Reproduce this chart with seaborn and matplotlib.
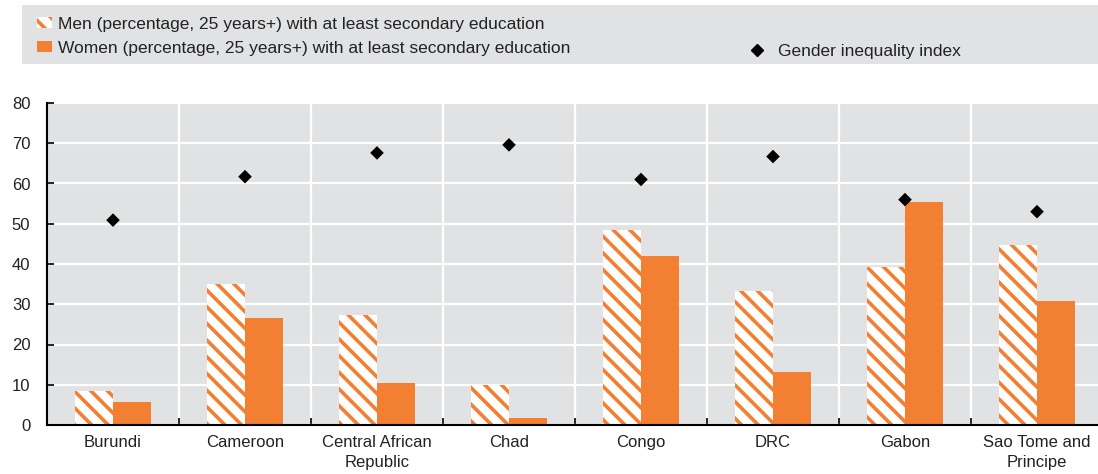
import numpy as np
import pandas as pd
import matplotlib
matplotlib.use('Agg')
import matplotlib.pyplot as plt
from matplotlib.patches import Patch, Rectangle
from matplotlib.lines import Line2D
from matplotlib import font_manager
import seaborn as sns

countries = ['Burundi', 'Cameroon', 'Central African\nRepublic', 'Chad', 'Congo',
             'DRC', 'Gabon', 'Sao Tome and\nPrincipe']
men = [8.5, 35.0, 27.3, 9.9, 48.4, 33.3, 39.2, 44.8]
women = [5.7, 26.7, 10.5, 1.7, 42.0, 13.2, 55.5, 30.8]
gii = [50.9, 61.7, 67.6, 69.6, 61.0, 66.7, 56.0, 53.0]

men_label = 'Men (percentage, 25 years+) with at least secondary education'
women_label = 'Women (percentage, 25 years+) with at least secondary education'
gii_label = 'Gender inequality index'

orange = '#f37f32'
grey = '#e1e2e4'

sns.set_style('white')
names = {f.name for f in font_manager.fontManager.ttflist}
fams = [f for f in ['Liberation Sans Narrow', 'Liberation Sans', 'DejaVu Sans'] if f in names]
plt.rcParams['font.family'] = fams
plt.rcParams['hatch.linewidth'] = 2.6

df = pd.DataFrame({'country': countries * 2,
                   'value': men + women,
                   'series': ['men'] * 8 + ['women'] * 8})

W, H = 1098, 474
fig = plt.figure(figsize=(W / 100, H / 100), dpi=100)
fig.patches.append(Rectangle((22 / W, 1 - 64 / H), 1076 / W, 59 / H,
                             transform=fig.transFigure, facecolor=grey,
                             edgecolor='none', zorder=0))

ax = fig.add_axes([47 / W, 49 / H, (1103 - 47) / W, 322 / H])
ax.set_facecolor(grey)

sns.barplot(data=df, x='country', y='value', hue='series',
            palette=[orange, orange], width=0.57, gap=0, saturation=1,
            legend=False, ax=ax, zorder=3)

n = len(countries)
for p in ax.patches[:n]:
    p.set_facecolor('white')
    p.set_edgecolor(orange)
    p.set_hatch('\\\\')
    p.set_linewidth(0)
for p in ax.patches[n:]:
    p.set_linewidth(0)

sns.scatterplot(x=countries, y=gii, marker='D', s=48, color='black',
                edgecolor='none', ax=ax, zorder=4)

ax.set_xlim(-0.5, n - 0.5)
ax.set_ylim(0, 80)
ax.set_yticks(np.arange(0, 81, 10))
ax.set_xticks(np.arange(n) + 0.5, minor=True)
ax.set_xlabel('')
ax.set_ylabel('')

ax.grid(True, axis='y', color='white', linewidth=1.6, zorder=1)
ax.grid(True, axis='x', which='minor', color='white', linewidth=1.6, zorder=1)
ax.grid(False, axis='x', which='major')
ax.set_axisbelow(True)

for s in ['top', 'right']:
    ax.spines[s].set_visible(False)
for s in ['left', 'bottom']:
    ax.spines[s].set_color('black')
    ax.spines[s].set_linewidth(1.5)
    ax.spines[s].set_zorder(5)

ax.tick_params(axis='y', direction='in', length=5, width=1.2, color='black',
               labelsize=12, pad=12, left=True)
ax.tick_params(axis='x', which='major', length=0, labelsize=12, pad=7)
ax.tick_params(axis='x', which='minor', direction='in', length=5, width=1.2,
               color='black', bottom=True)
for lab in ax.get_yticklabels():
    lab.set_color('#222222')
for lab in ax.get_xticklabels():
    lab.set_color('#222222')
    lab.set_linespacing(1.45)

h_men = Patch(facecolor='white', edgecolor=orange, hatch='\\\\', linewidth=0)
h_women = Patch(facecolor=orange, edgecolor='none')
leg1 = fig.legend([h_men, h_women], [men_label, women_label],
                  loc='upper left', bbox_to_anchor=(37 / W, 1 - 17 / H),
                  frameon=False, fontsize=12.5, handlelength=0.85, handleheight=0.6,
                  handletextpad=0.38, labelspacing=0.52, borderpad=0, borderaxespad=0)
h_gii = Line2D([], [], marker='D', color='black', linestyle='none', markersize=6.5)
leg2 = fig.legend([h_gii], [gii_label], loc='upper left',
                  bbox_to_anchor=(748 / W, 1 - 44 / H), frameon=False, fontsize=12.5,
                  handlelength=1.0, handletextpad=0.75, borderpad=0, borderaxespad=0)
for leg in (leg1, leg2):
    for t in leg.get_texts():
        t.set_color('#222222')

fig.savefig('out.png', dpi=100)
